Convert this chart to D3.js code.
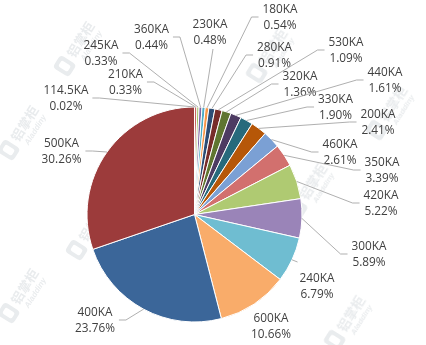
<!DOCTYPE html>
<html>
<head>
<meta charset="utf-8">
<script src="https://cdn.jsdelivr.net/npm/d3@7"></script>
<style>
  html, body { margin: 0; padding: 0; background: #ffffff; }
  svg { display: block; }
</style>
</head>
<body>
<div id="chart"></div>
<script>
// Share of capacity by electrolytic cell current rating (clockwise from 12 o'clock)
const categories = ["114.5KA", "210KA", "245KA", "360KA", "230KA", "180KA", "280KA", "530KA",
  "320KA", "440KA", "330KA", "200KA", "460KA", "350KA", "420KA", "300KA", "240KA", "600KA",
  "400KA", "500KA"];
const shares = [0.02, 0.33, 0.33, 0.44, 0.48, 0.54, 0.91, 1.09, 1.36, 1.61, 1.90, 2.41, 2.61,
  3.39, 5.22, 5.89, 6.79, 10.66, 23.76, 30.26];

// Slice fills, in the same order as the categories
const palette = ["#4f81bd", "#c0504d", "#9bbb59", "#8064a2", "#4bacc6", "#f79646",
  "#2c4d75", "#772c2a", "#5f7530", "#4d3b62", "#276a7c", "#b65708",
  "#7ba0d4", "#d2706e", "#afca72", "#9a84b8", "#6fbdd1", "#f9ac6a",
  "#3b6699", "#9c3b3b"];

// Label placement: centre x, first-line y, and which side the leader line joins
const labelLayout = [
  { x: 66, y: 90, at: "r" }, { x: 125.5, y: 74, at: "r" }, { x: 101, y: 45, at: "r" },
  { x: 151.5, y: 29, at: "r" }, { x: 210, y: 24, at: "b" }, { x: 280, y: 9, at: "l" },
  { x: 274.5, y: 47, at: "l" }, { x: 346, y: 42, at: "l" }, { x: 300, y: 76, at: "l" },
  { x: 385, y: 72, at: "l" }, { x: 335.5, y: 99, at: "l" }, { x: 378, y: 114, at: "l" },
  { x: 340, y: 144, at: "l" }, { x: 382, y: 162, at: "l" }, { x: 381, y: 195, at: "l" },
  { x: 369, y: 246, at: "l" }, { x: 317, y: 278, at: "tl" }, { x: 271, y: 318, at: "none" },
  { x: 95, y: 312, at: "r" }, { x: 61.5, y: 143, at: "r" }
];

// Faint brand marks scattered over the background
const markSpots = [[80, 48], [272, 55], [392, 112], [312, 190], [350, 322], [24, 132],
  [24, 295], [92, 232]];

const W = 426, H = 345;
const cx = 194.5, cy = 214.5, R = 107.5;
const lineGap = 16;

const data = categories.map((c, i) => ({ name: c, share: shares[i], color: palette[i], pos: labelLayout[i] }));

const svg = d3.select("#chart").append("svg")
  .attr("width", W).attr("height", H)
  .attr("viewBox", `0 0 ${W} ${H}`);

svg.append("rect").attr("width", W).attr("height", H).attr("fill", "#ffffff");

// ---- background brand marks ----
const marks = svg.append("g").attr("opacity", 0.5);
markSpots.forEach(([x, y]) => {
  const g = marks.append("g").attr("transform", `translate(${x},${y}) rotate(-58)`);
  g.append("rect").attr("x", -31).attr("y", -13).attr("width", 15).attr("height", 19)
    .attr("rx", 4).attr("fill", "#d3d8dc");
  g.append("rect").attr("x", -27).attr("y", -9).attr("width", 7).attr("height", 11)
    .attr("rx", 2).attr("fill", "#ffffff");
  g.append("text").attr("x", -12).attr("y", 1)
    .attr("font-family", "'Noto Sans CJK SC', sans-serif").attr("font-weight", "bold")
    .attr("font-size", 13).attr("fill", "#d3d8dc").text("铝掌柜");
  g.append("text").attr("x", -9).attr("y", 11)
    .attr("font-family", "'Liberation Sans', sans-serif").attr("font-style", "italic")
    .attr("font-weight", "bold").attr("font-size", 8).attr("fill", "#d3d8dc").text("Aladdiny");
});

// ---- pie ----
const pie = d3.pie().sort(null).value(d => d.share).startAngle(0).endAngle(2 * Math.PI);
const arcs = pie(data);
const arc = d3.arc().innerRadius(0).outerRadius(R);

const plot = svg.append("g").attr("transform", `translate(${cx},${cy})`);
plot.selectAll("path.slice")
  .data(arcs)
  .join("path")
  .attr("class", "slice")
  .attr("d", arc)
  .attr("fill", d => d.data.color)
  .attr("stroke", "#ffffff")
  .attr("stroke-width", 1)
  .attr("stroke-linejoin", "round");

// ---- labels ----
const labelG = svg.append("g")
  .attr("font-family", "'Open Sans', sans-serif")
  .attr("font-size", 11.8)
  .attr("fill", "#404040");

const leaderG = svg.append("g")
  .attr("fill", "none").attr("stroke", "#a6a6a6").attr("stroke-width", 0.9);

arcs.forEach(a => {
  const p = a.data.pos;
  const t = labelG.append("text").attr("text-anchor", "middle");
  const l1 = t.append("tspan").attr("x", p.x).attr("y", p.y).attr("dy", "0.35em").text(a.data.name);
  const l2 = t.append("tspan").attr("x", p.x).attr("y", p.y + lineGap).attr("dy", "0.35em")
    .text(a.data.share.toFixed(2) + "%");
  const w = Math.max(l1.node().getComputedTextLength(), l2.node().getComputedTextLength());
  if (p.at === "none") return;

  const mid = (a.startAngle + a.endAngle) / 2;
  const edge = [cx + R * Math.sin(mid), cy - R * Math.cos(mid)];
  const midY = p.y + lineGap / 2;
  let pts;
  if (p.at === "l") {
    const ax = p.x - w / 2 - 4;
    pts = [edge, [ax - 7, midY], [ax, midY]];
  } else if (p.at === "r") {
    const ax = p.x + w / 2 + 4;
    pts = [edge, [ax + 7, midY], [ax, midY]];
  } else if (p.at === "tl") {
    const ax = p.x - w / 2 - 2;
    pts = [edge, [ax, p.y - 16]];
  } else {
    pts = [edge, [p.x + 3, p.y + lineGap + 9]];
  }
  leaderG.append("path").attr("d", d3.line()(pts));
});
</script>
</body>
</html>
